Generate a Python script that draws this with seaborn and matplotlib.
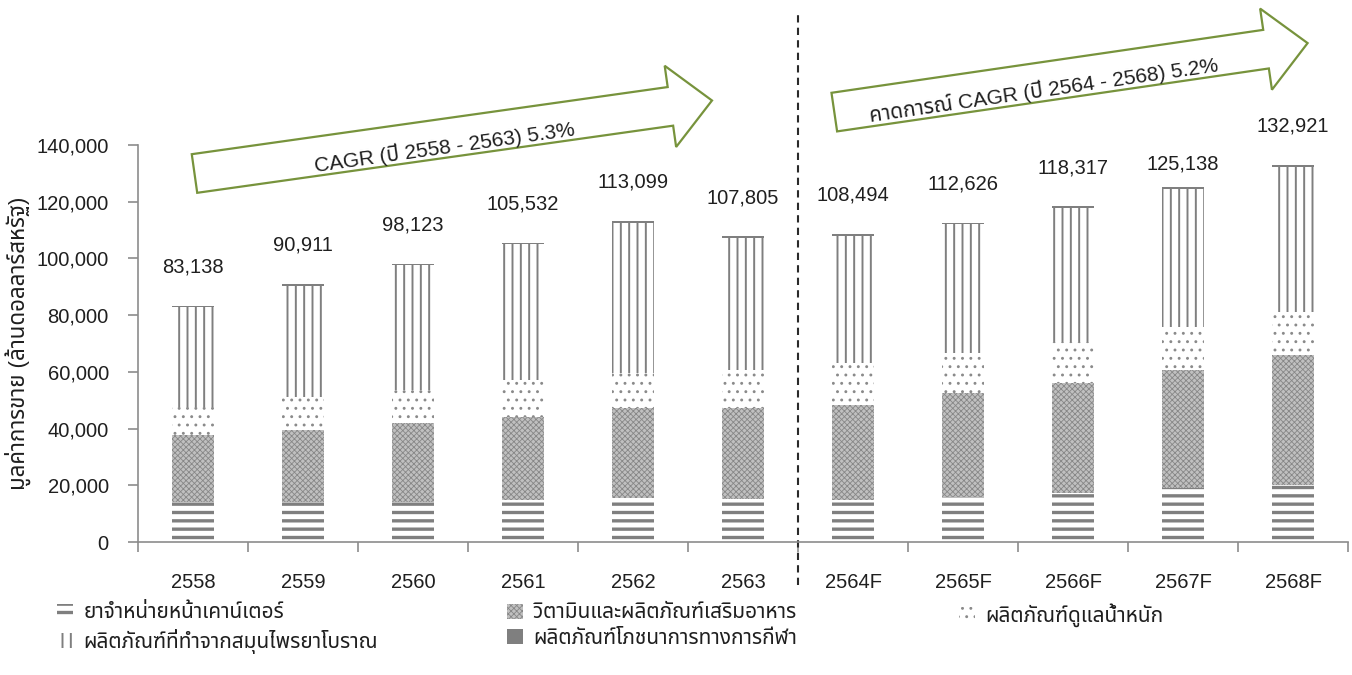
import matplotlib
matplotlib.use("Agg")
import numpy as np
import pandas as pd
import matplotlib.pyplot as plt
import seaborn as sns
from matplotlib import font_manager as fm
from matplotlib.patches import Patch, Polygon

# ---------------- data ----------------
years = ["2558", "2559", "2560", "2561", "2562", "2563",
         "2564F", "2565F", "2566F", "2567F", "2568F"]
totals = [83138, 90911, 98123, 105532, 113099, 107805,
          108494, 112626, 118317, 125138, 132921]
otc = [14200, 14200, 14200, 14800, 15400, 15000, 14800, 16000, 17200, 18900, 20100]
vitamins = [23500, 25300, 27600, 29400, 31700, 32100, 33500, 36400, 38800, 41700, 45800]
weight = [10000, 11700, 11800, 12900, 12400, 13500, 14700, 14100, 14600, 15300, 15300]
herbal = [35000, 39200, 44000, 47900, 53000, 46600, 44900, 45500, 47100, 48600, 51000]
sports = [450, 480, 510, 540, 570, 560, 580, 600, 630, 660, 700]

series_names = ["ยาจำหน่ายหน้าเคาน์เตอร์",
                "วิตามินและผลิตภัณฑ์เสริมอาหาร",
                "ผลิตภัณฑ์ดูแลน้ำหนัก",
                "ผลิตภัณฑ์ที่ทำจากสมุนไพรยาโบราณ",
                "ผลิตภัณฑ์โภชนาการทางการกีฬา"]
ylabel_text = "มูลค่าการขาย (ล้านดอลลาร์สหรัฐ)"
arrow1_text = "CAGR (ปี 2558 - 2563) 5.3%"
arrow2_text = "คาดการณ์ CAGR (ปี 2564 - 2568) 5.2%"

# ---------------- fonts ----------------
def find_thai_font():
    pref = ["Noto Sans Thai", "Noto Sans Thai UI", "Tahoma", "Loma", "Garuda",
            "Sarabun", "Waree", "Umpush", "Kinnari", "Norasi", "Laksaman",
            "Tlwg Typo", "Sawasdee", "Purisa", "Noto Serif Thai"]
    names = {f.name for f in fm.fontManager.ttflist}
    for p in pref:
        if p in names:
            return p
    try:
        from fontTools.ttLib import TTFont
        for f in fm.fontManager.ttflist:
            try:
                tt = TTFont(f.fname, fontNumber=0, lazy=True)
                cm = tt.getBestCmap()
                if cm and 0x0E01 in cm:
                    return f.name
            except Exception:
                pass
    except Exception:
        pass
    return None

sns.set_theme(style="white")
thai = find_thai_font()
fams = ["Liberation Sans"] + ([thai] if thai else []) + ["DejaVu Sans"]
plt.rcParams["font.family"] = fams

TXT = "#1f1f1f"
GREY = "#7f7f7f"
AXC = "#8c8c8c"
GREEN = "#77933C"
FS = 14.5

W, H = 1352, 675
fig = plt.figure(figsize=(W / 100, H / 100), dpi=100)
ax = fig.add_axes([138 / W, 1 - 542 / H, (1348 - 138) / W, (542 - 145) / H])

# cumulative layers (drawn from tallest to shortest so they overlay)
c1 = np.array(otc, float)
c2 = c1 + np.array(vitamins)
c3 = c2 + np.array(weight)
c4 = c3 + np.array(herbal)
c5 = c4 + np.array(sports)

layers = [
    (c5, dict(fc=GREY, ec=GREY, hatch=None, hlw=1.0)),
    (c4, dict(fc="white", ec=GREY, hatch="||", hlw=1.4)),
    (c3, dict(fc="white", ec="#8a8a8a", hatch="..", hlw=0.9)),
    (c2, dict(fc="#c0c0c0", ec="#878787", hatch="xxxxxx", hlw=0.6)),
    (c1, dict(fc="white", ec=GREY, hatch="--", hlw=2.4)),
]

for vals, st in layers:
    df = pd.DataFrame({"year": years, "value": vals})
    n_before = len(ax.containers)
    sns.barplot(data=df, x="year", y="value", order=years, ax=ax,
                color=st["fc"], saturation=1, width=0.39, linewidth=0,
                errorbar=None)
    cont = ax.containers[n_before]
    for p in cont:
        p.set_facecolor(st["fc"])
        p.set_edgecolor(st["ec"])
        p.set_linewidth(0)
        if st["hatch"]:
            p.set_hatch(st["hatch"])
            if hasattr(p, "set_hatch_linewidth"):
                p.set_hatch_linewidth(st["hlw"])

# axes styling
ax.set_ylim(0, 140000)
ax.set_xlim(-0.5, len(years) - 0.5)
ax.set_yticks(np.arange(0, 140001, 20000))
ax.set_yticklabels([f"{v:,}" for v in range(0, 140001, 20000)])
ax.set_xlabel("")
ax.set_ylabel(ylabel_text, fontsize=16, color=TXT, va="center")
ax.yaxis.set_label_coords(-0.099, 0.5)
for s in ["top", "right"]:
    ax.spines[s].set_visible(False)
for s in ["left", "bottom"]:
    ax.spines[s].set_color(AXC)
    ax.spines[s].set_linewidth(1.2)
ax.tick_params(axis="y", which="major", left=True, length=7, width=1.2,
               color=AXC, direction="out", pad=14, labelsize=FS, labelcolor=TXT)
ax.tick_params(axis="x", which="major", bottom=True, length=0, pad=22,
               labelsize=FS, labelcolor=TXT)
ax.set_xticks(np.arange(-0.5, len(years), 1), minor=True)
ax.tick_params(axis="x", which="minor", bottom=True, length=7, width=1.2,
               color=AXC, direction="out")
ax.grid(False)

# total labels
label_offsets = [28, 28, 28, 28, 28, 28, 28, 28, 28, 16.5, 28]
for i, (t, off) in enumerate(zip(totals, label_offsets)):
    ax.annotate(f"{t:,}", (i, c5[i]), xytext=(0, off), textcoords="offset points",
                ha="center", va="center", fontsize=FS, color=TXT)

# dashed divider between actual and forecast
ax.axvline(5.5, ymin=(542 - 585) / 397, ymax=(542 - 15) / 397, clip_on=False,
           color="#2a2a2a", lw=1.5, ls=(0, (3.5, 2.5)))

# ---------------- arrows ----------------
def px(x, y):
    return np.array([x, H - y], float)

def arrow_poly(tail, tip, w, hw, hl):
    T, P = px(*tail), px(*tip)
    d = P - T
    u = d / np.linalg.norm(d)
    n = np.array([-u[1], u[0]])
    B = P - u * hl
    pts = [T + n * w / 2, B + n * w / 2, B + n * hw / 2, P,
           B - n * hw / 2, B - n * w / 2, T - n * w / 2]
    pts = np.array(pts)
    pts[:, 0] /= W
    pts[:, 1] /= H
    ang = np.degrees(np.arctan2(d[1], d[0]))
    return pts, ang, T, u, n

for tail, tip, text, shift, along in [
        ((194.5, 173.5), (712, 100.5), arrow1_text, -9, 0.48),
        ((834.3, 112.1), (1307.6, 43.1), arrow2_text, -8, 0.44)]:
    pts, ang, T, u, n = arrow_poly(tail, tip, 39, 82, 42)
    fig.patches.append(Polygon(pts, closed=True, transform=fig.transFigure,
                               facecolor="white", edgecolor=GREEN, lw=1.6))
    L = np.linalg.norm(px(*tip) - px(*tail))
    c = T + u * L * along + n * shift
    fig.text(c[0] / W, c[1] / H, text, rotation=ang, rotation_mode="anchor",
             ha="center", va="center", fontsize=15, color=TXT)

# ---------------- legend ----------------
styles = [st for _, st in layers][::-1]  # otc, vit, weight, herbal, sports
handles = [Patch(facecolor=st["fc"], edgecolor=st["ec"], hatch=st["hatch"], lw=0)
           for st in styles]
cols = [([0, 3], 47), ([1, 4], 497), ([2], 949)]
for idx, xpx in cols:
    lg = fig.legend([handles[i] for i in idx], [series_names[i] for i in idx],
                    loc="upper left", bbox_to_anchor=(xpx / W, 1 - 593 / H),
                    frameon=False, fontsize=15, handlelength=0.75, handleheight=0.75,
                    handletextpad=0.5, labelspacing=0.3, borderpad=0,
                    labelcolor=TXT)
    for hnd, i in zip(lg.legend_handles, idx):
        if hasattr(hnd, "set_hatch_linewidth"):
            hnd.set_hatch_linewidth(styles[i]["hlw"])

fig.savefig("out.png", dpi=100)
